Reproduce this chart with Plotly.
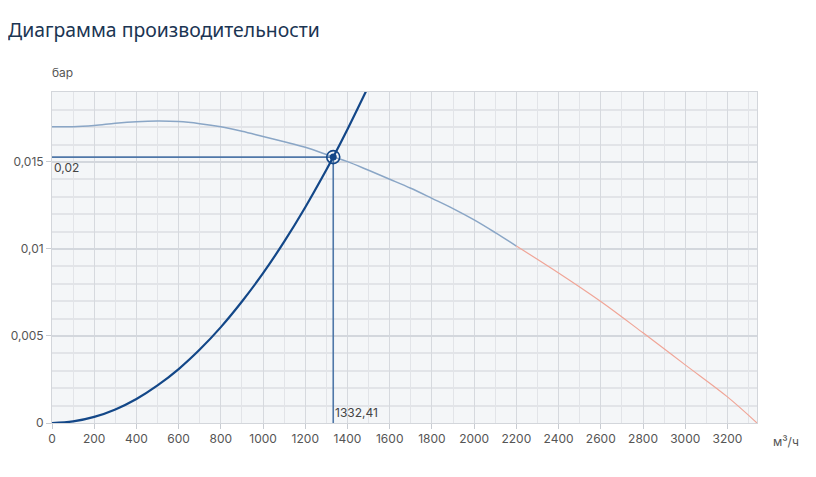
import plotly.graph_objects as go

# pump curve (working range), m3/h -> bar
pump_q = [0, 100, 200, 300, 400, 500, 600, 700, 800, 900, 1000, 1100, 1200,
          1300, 1332.41, 1400, 1500, 1600, 1700, 1800, 1900, 2000, 2100, 2200]
pump_p = [0.01703, 0.01703, 0.01710, 0.01722, 0.01731, 0.01735, 0.01732,
          0.01720, 0.01702, 0.01676, 0.01646, 0.01616, 0.01584, 0.01543,
          0.01529, 0.01502, 0.01452, 0.01401, 0.01349, 0.01291, 0.01232,
          0.01167, 0.01094, 0.01017]

# pump curve outside the recommended range
tail_q = [2200, 2400, 2600, 2800, 3000, 3200, 3340]
tail_p = [0.01017, 0.00862, 0.00698, 0.00518, 0.00334, 0.00150, 0.0]

# system curve
sys_q = [0, 100, 200, 300, 400, 500, 600, 700, 800, 900, 1000, 1100, 1200,
         1300, 1332.41, 1400, 1490]
sys_p = [0.0, 0.00009, 0.00035, 0.00078, 0.00138, 0.00216, 0.00310, 0.00422,
         0.00551, 0.00698, 0.00861, 0.01042, 0.01240, 0.01455, 0.01528,
         0.01688, 0.01912]

# operating point
op_q = 1332.41
op_p = 0.01528

y_ticks = [0, 0.005, 0.01, 0.015]
y_labels = ["0", "0,005", "0,01", "0,015"]

# page body adds an 8px offset, so the figure is drawn 8px smaller
W, H = 808, 469
L, R, T, B = 44, 59, 84, 54
pw, ph = W - L - R, H - T - B


def to_paper(px, py):
    # figure pixel -> plot-area paper coords
    return (px - L) / pw, (H - B - py) / ph


fig = go.Figure()

fig.add_trace(go.Scatter(x=[0, op_q, op_q], y=[op_p, op_p, 0], mode="lines",
                         line=dict(color="#4f77a8", width=1.6), hoverinfo="skip"))
fig.add_trace(go.Scatter(x=pump_q, y=pump_p, mode="lines", line_shape="spline",
                         line=dict(color="#8aa6c6", width=1.5)))
fig.add_trace(go.Scatter(x=tail_q, y=tail_p, mode="lines", line_shape="spline",
                         line=dict(color="#f0a597", width=1.2)))
fig.add_trace(go.Scatter(x=sys_q, y=sys_p, mode="lines", line_shape="spline",
                         line=dict(color="#134788", width=2.2)))
fig.add_trace(go.Scatter(x=[op_q], y=[op_p], mode="markers",
                         marker=dict(size=13, color="rgba(0,0,0,0)",
                                     line=dict(color="#134788", width=1.6))))
fig.add_trace(go.Scatter(x=[op_q], y=[op_p], mode="markers",
                         marker=dict(size=7, color="#134788")))

fig.add_annotation(x=0, y=op_p, text="0,02", showarrow=False, xanchor="left",
                   yanchor="top", yshift=-1,
                   font=dict(family="Inter", size=12, color="#444"))
fig.add_annotation(x=op_q, y=0, text="1332,41", showarrow=False, xanchor="left",
                   yanchor="bottom", yshift=1,
                   font=dict(family="Inter", size=12, color="#444"))

bx, by = to_paper(54, 64)
fig.add_annotation(x=bx, y=by, xref="paper", yref="paper", text="бар", showarrow=False,
                   xanchor="center", yanchor="middle",
                   font=dict(family="Inter", size=12, color="#555"))
ux, uy = to_paper(778, 433)
fig.add_annotation(x=ux, y=uy, xref="paper", yref="paper", text="м³/ч", showarrow=False,
                   xanchor="center", yanchor="middle",
                   font=dict(family="Inter", size=12, color="#555"))

fig.update_layout(
    width=W, height=H,
    margin=dict(l=L, r=R, t=T, b=B, autoexpand=False),
    paper_bgcolor="white",
    plot_bgcolor="#f4f6f8",
    showlegend=False,
    separators=", ",
    title=dict(text="Диаграмма производительности", x=0, xanchor="left",
               y=1 - 22 / H, yanchor="middle",
               font=dict(family="Noto Sans", size=19.4, color="#1b3553")),
    font=dict(family="Inter", size=12, color="#555"),
)

fig.update_xaxes(range=[0, 3340], dtick=200, tick0=0, showgrid=True,
                 gridcolor="#d6d9de", gridwidth=1,
                 minor=dict(dtick=100, showgrid=True, gridcolor="#e2e4e8", gridwidth=1),
                 ticks="outside", ticklen=5, tickcolor="#c8ccd2", automargin=False,
                 zeroline=False, showline=True, linecolor="#d3d6db", mirror=True,
                 tickfont=dict(family="Inter", size=12, color="#555"))
fig.update_yaxes(range=[0, 0.01902], tickvals=y_ticks, ticktext=y_labels,
                 showgrid=True, gridcolor="#d3d7dd", gridwidth=1.5,
                 minor=dict(dtick=0.001, showgrid=True, gridcolor="#e2e4e8", gridwidth=1.5),
                 ticks="outside", ticklen=5, tickcolor="#c8ccd2", automargin=False,
                 zeroline=False, showline=True, linecolor="#d3d6db", mirror=True,
                 tickfont=dict(family="Inter", size=12, color="#555"))

fig.write_html("out.html")
